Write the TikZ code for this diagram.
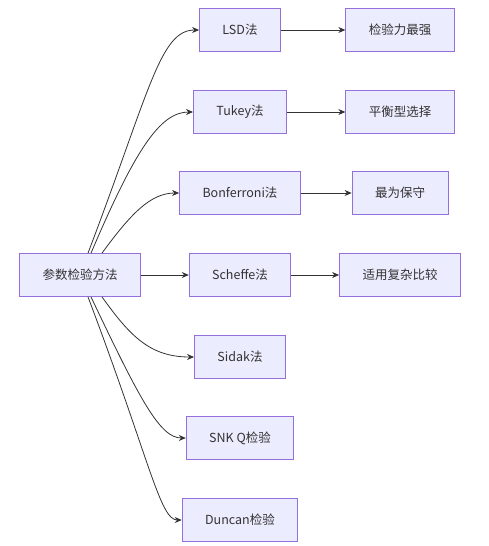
\documentclass[tikz,border=0pt]{standalone}
\usepackage{fontspec}
\usepackage{xcolor}
\usepackage{tikz}
\usetikzlibrary{arrows.meta, positioning, calc}
\setmainfont{Noto Sans CJK SC}
\definecolor{boxfill}{RGB}{236, 236, 255}
\definecolor{boxline}{RGB}{147, 112, 219}
\definecolor{darkgray}{RGB}{51, 51, 51}

\begin{document}
\begin{tikzpicture}[x=1pt, y=-1pt,
    method/.style={draw=boxline, fill=boxfill, line width=0.8pt, text=darkgray,
          minimum height=43pt, inner xsep=23pt, font=\fontsize{12.5}{15}\selectfont},
    link/.style={draw=darkgray, line width=0.8pt, -{Stealth[length=7pt, width=6pt]}}]
    \useasboundingbox (0,0) rectangle (488,546);

    \node[method] (root) at (80,275) {参数检验方法};

    \node[method] (lsd) at (240,30) {LSD法};
    \node[method] (tukey) at (240,112) {Tukey法};
    \node[method] (bonf) at (240,193) {Bonferroni法};
    \node[method] (scheffe) at (240,275) {Scheffe法};
    \node[method] (sidak) at (240,357) {Sidak法};
    \node[method] (snk) at (240,438) {SNK Q检验};
    \node[method] (duncan) at (240,520) {Duncan检验};

    \node[method] (power) at (400,30) {检验力最强};
    \node[method] (balance) at (400,112) {平衡型选择};
    \node[method] (conserv) at (400,193) {最为保守};
    \node[method] (complex) at (400,275) {适用复杂比较};

    % curved edges from the root
    \draw[link] ([xshift=8pt]root.north) .. controls (150,90) and (160,30) .. (lsd.west);
    \draw[link] ([xshift=11pt]root.north) .. controls (135,150) and (160,112) .. (tukey.west);
    \draw[link] ([xshift=22pt]root.north) .. controls (130,215) and (150,193) .. (bonf.west);
    \draw[link] (root.east) -- (scheffe.west);
    \draw[link] ([xshift=22pt]root.south) .. controls (130,336) and (150,357) .. (sidak.west);
    \draw[link] ([xshift=11pt]root.south) .. controls (140,400) and (160,438) .. (snk.west);
    \draw[link] ([xshift=8pt]root.south) .. controls (150,461) and (160,520) .. (duncan.west);

    % straight edges to the conclusions
    \draw[link] (lsd) -- (power);
    \draw[link] (tukey) -- (balance);
    \draw[link] (bonf) -- (conserv);
    \draw[link] (scheffe) -- (complex);
\end{tikzpicture}
\end{document}
